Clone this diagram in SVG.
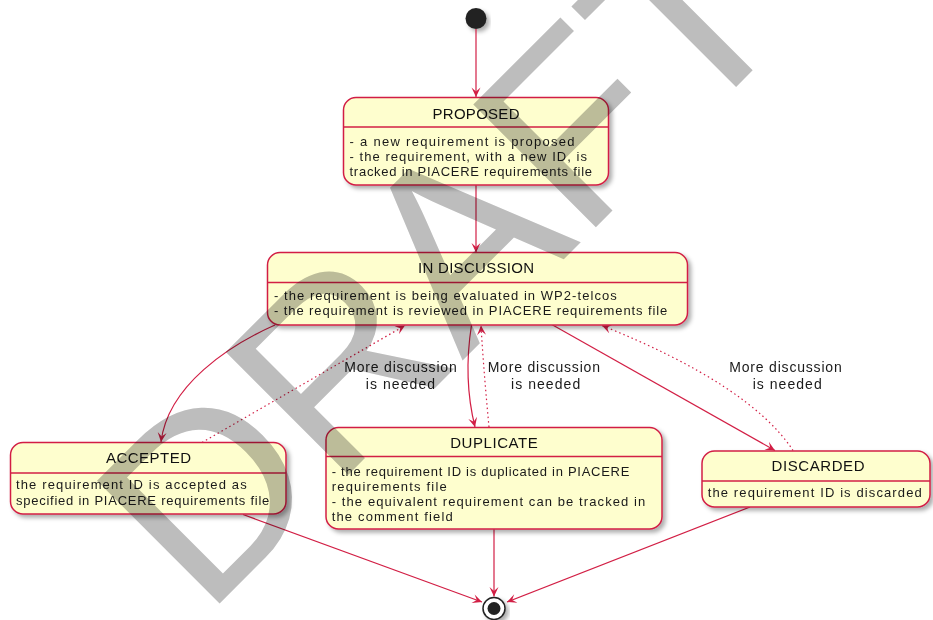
<svg xmlns="http://www.w3.org/2000/svg" width="933" height="620" viewBox="0 0 933 620">
  <style>
    .state { fill: #FEFECE; stroke: #D21F45; stroke-width: 1.5; }
    .sep { stroke: #D21F45; stroke-width: 1.5; }
    .title { font-family: "Liberation Sans", Arial, sans-serif; font-size: 15px; fill: #111; text-anchor: middle; }
    .body { font-family: "Liberation Sans", Arial, sans-serif; font-size: 13px; fill: #1a1a1a; }
    .lbl { font-family: "Liberation Sans", Arial, sans-serif; font-size: 14px; fill: #1a1a1a; text-anchor: middle; }
    .edge { fill: none; stroke: #D21F45; stroke-width: 1.2; }
    .dotted { stroke-dasharray: 1.5 3; }
    .mark { font-family: "Liberation Sans", Arial, sans-serif; font-size: 252px; fill: #bdbdbd; mix-blend-mode: multiply; }
  </style>
  <defs>
    <filter id="shadow" x="-10%" y="-10%" width="130%" height="140%">
      <feDropShadow dx="3" dy="3" stdDeviation="2" flood-color="#000" flood-opacity="0.32"/>
    </filter>
    <marker id="arrow" viewBox="-10 -5 11 10" refX="0" refY="0" markerWidth="11" markerHeight="10" markerUnits="userSpaceOnUse" orient="auto">
      <path d="M-9.5,-4.5 L0,0 L-9.5,4.5 L-5.5,0 Z" fill="#D21F45"/>
    </marker>
  </defs>

  <rect width="933" height="620" fill="#fff"/>

  <!-- start pseudo-state -->
  <g id="start">
    <circle cx="476" cy="18.5" r="10.5" fill="#222" filter="url(#shadow)"/>
  </g>

  <!-- transitions -->
  <g id="connectors">
    <path class="edge" d="M476,29 L476,97" marker-end="url(#arrow)"/>
    <path class="edge" d="M476,185 L476,252.5" marker-end="url(#arrow)"/>
    <path class="edge" d="M275,325 C230,345 168,385 161,442" marker-end="url(#arrow)"/>
    <path class="edge dotted" d="M202,442.5 L405,325.5" marker-end="url(#arrow)"/>
    <path class="edge" d="M471.5,325 C466,360 467,395 475,427" marker-end="url(#arrow)"/>
    <path class="edge dotted" d="M489,427 C486,395 483,360 481,325.5" marker-end="url(#arrow)"/>
    <path class="edge" d="M550,323.5 L775,450.5" marker-end="url(#arrow)"/>
    <path class="edge dotted" d="M793,450.5 Q750,385 602,325.5" marker-end="url(#arrow)"/>
    <path class="edge" d="M243,514.5 L482,602" marker-end="url(#arrow)"/>
    <path class="edge" d="M494,529 L494,596.5" marker-end="url(#arrow)"/>
    <path class="edge" d="M750,507 L507,602" marker-end="url(#arrow)"/>

    <text class="lbl"><tspan x="400.5" y="372.3" textLength="112.4">More discussion</tspan><tspan x="400.4" y="389" textLength="69.3">is needed</tspan></text>
    <text class="lbl"><tspan x="543.8" y="372.3" textLength="112.3">More discussion</tspan><tspan x="545.6" y="389" textLength="69.3">is needed</tspan></text>
    <text class="lbl"><tspan x="785.5" y="372.3" textLength="112.4">More discussion</tspan><tspan x="787.2" y="389" textLength="69">is needed</tspan></text>
  </g>

  <g id="proposed">
    <rect class="state" x="343.5" y="97.5" width="265" height="87.5" rx="12.5" filter="url(#shadow)"/>
    <line class="sep" x1="343.5" y1="127" x2="608.5" y2="127"/>
    <text class="title" x="476" y="118.5" textLength="87">PROPOSED</text>
    <text class="body" x="349.5" y="145.5" textLength="225">- a new requirement is proposed</text>
    <text class="body" x="349.5" y="160.5" textLength="237.5">- the requirement, with a new ID, is</text>
    <text class="body" x="349.5" y="175.8" textLength="242.5">tracked in PIACERE requirements file</text>
  </g>

  <g id="in_discussion">
    <rect class="state" x="267.5" y="252.5" width="420" height="72.5" rx="12.5" filter="url(#shadow)"/>
    <line class="sep" x1="267.5" y1="282.5" x2="687.5" y2="282.5"/>
    <text class="title" x="476" y="273" textLength="116">IN DISCUSSION</text>
    <text class="body" x="274" y="299.5" textLength="342.7">- the requirement is being evaluated in WP2-telcos</text>
    <text class="body" x="274" y="315" textLength="393.3">- the requirement is reviewed in PIACERE requirements file</text>
  </g>

  <g id="accepted">
    <rect class="state" x="10.5" y="442.5" width="275.5" height="71.5" rx="12.5" filter="url(#shadow)"/>
    <line class="sep" x1="10.5" y1="473" x2="286" y2="473"/>
    <text class="title" x="148.5" y="463.3" textLength="85">ACCEPTED</text>
    <text class="body" x="16" y="489.3" textLength="230.7">the requirement ID is accepted as</text>
    <text class="body" x="16" y="504.5" textLength="253.3">specified in PIACERE requirements file</text>
  </g>

  <g id="duplicate">
    <rect class="state" x="326" y="427.5" width="336" height="101.5" rx="12.5" filter="url(#shadow)"/>
    <line class="sep" x1="326" y1="456.5" x2="662" y2="456.5"/>
    <text class="title" x="494" y="448.3" textLength="87.7">DUPLICATE</text>
    <text class="body" x="331.7" y="475.5" textLength="297.6">- the requirement ID is duplicated in PIACERE</text>
    <text class="body" x="331.7" y="490.8" textLength="115">requirements file</text>
    <text class="body" x="331.7" y="506" textLength="313.6">- the equivalent requirement can be tracked in</text>
    <text class="body" x="331.7" y="521.3" textLength="121">the comment field</text>
  </g>

  <g id="discarded">
    <rect class="state" x="702" y="451" width="228" height="56" rx="12.5" filter="url(#shadow)"/>
    <line class="sep" x1="702" y1="481" x2="930" y2="481"/>
    <text class="title" x="818" y="471" textLength="93">DISCARDED</text>
    <text class="body" x="707.7" y="497" textLength="214">the requirement ID is discarded</text>
  </g>

  <!-- final pseudo-state -->
  <g id="end">
    <circle cx="494" cy="608.5" r="11" fill="#fff" stroke="#222" stroke-width="1.5" filter="url(#shadow)"/>
    <circle cx="494" cy="608.5" r="6.5" fill="#222"/>
  </g>

  <!-- watermark -->
  <text class="mark" transform="translate(205,618) rotate(-45)">DRAFT</text>
</svg>
